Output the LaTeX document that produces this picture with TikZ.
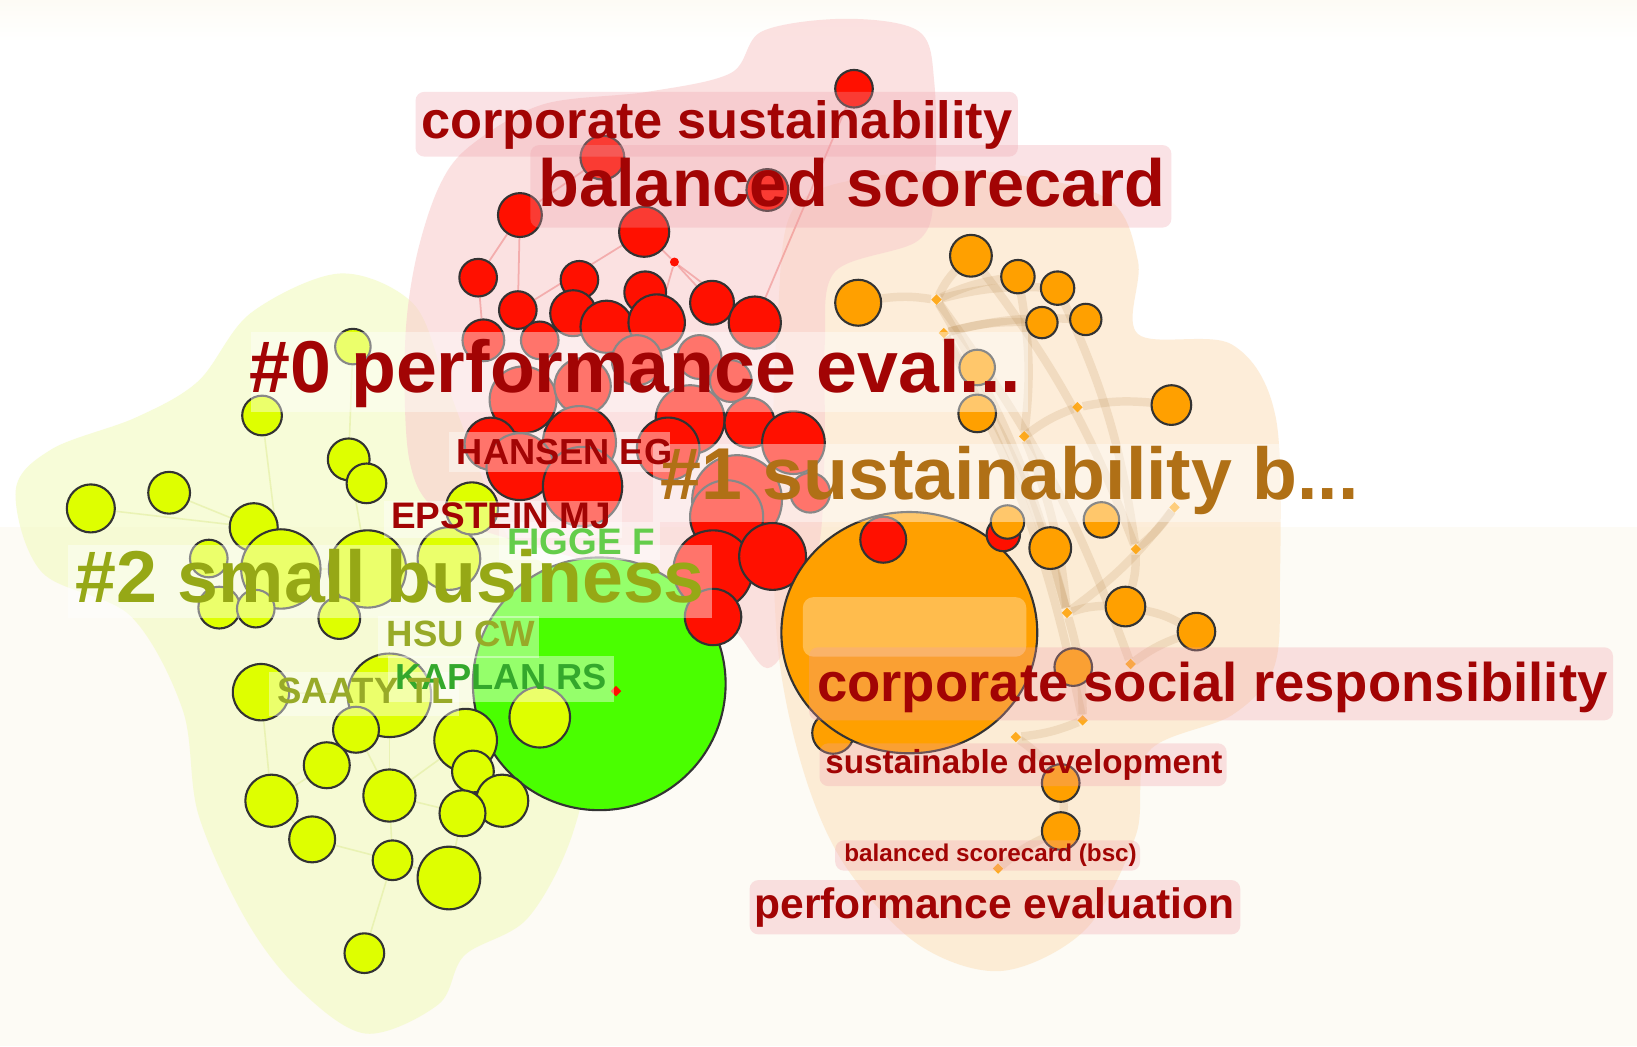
\documentclass[tikz,border=0pt]{standalone}
\usepackage{fontspec}
\setmainfont{Liberation Sans}
\usetikzlibrary{shapes.geometric}
\definecolor{kwred}{RGB}{162,4,4}
\definecolor{cbrown}{RGB}{176,112,22}
\definecolor{colive}{RGB}{150,168,22}
\definecolor{colive2}{RGB}{152,170,40}
\definecolor{ckap}{RGB}{52,168,44}
\definecolor{cfig}{RGB}{100,205,75}
\definecolor{rednode}{RGB}{255,16,0}
\definecolor{orgnode}{RGB}{255,160,0}
\definecolor{yelnode}{RGB}{222,255,0}
\definecolor{grnnode}{RGB}{74,255,0}
\definecolor{redhull}{RGB}{249,206,206}
\definecolor{orghull}{RGB}{252,226,192}
\definecolor{yelhull}{RGB}{242,250,190}
\definecolor{bgcream}{RGB}{253,251,245}
\definecolor{kwpink}{RGB}{240,160,170}
\definecolor{olinkc}{RGB}{170,115,45}
\definecolor{rlinkc}{RGB}{235,110,110}
\definecolor{ylinkc}{RGB}{215,230,130}
\pgfdeclarelayer{bgl}
\pgfdeclarelayer{hulls}
\pgfdeclarelayer{links}
\pgfsetlayers{bgl,hulls,links,main}
\tikzset{
  nd/.style={circle, draw=black!80, line width=0.6pt, inner sep=0pt, minimum size=#1*0.2088mm},
  rn/.style={nd=#1, fill=rednode},
  on/.style={nd=#1, fill=orgnode},
  yn/.style={nd=#1, fill=yelnode},
  dm/.style={diamond, fill=orgnode, fill opacity=.85, inner sep=0pt, minimum size=1.1mm},
  band/.style={fill=white, fill opacity=.42},
  kwbox/.style={fill=kwpink, fill opacity=.3, rounded corners=2.5pt},
  lab/.style={anchor=base west, inner sep=0pt, font=\bfseries\fontsize{#1}{#1}\selectfont},
  olink/.style={draw=olinkc, draw opacity=.14, line width=2.4pt},
  rlink/.style={draw=rlinkc, draw opacity=.45, line width=.5pt},
  ylink/.style={draw=ylinkc, draw opacity=.4, line width=.45pt},
}
\begin{document}
\begin{tikzpicture}[x=0.01044cm,y=-0.01044cm]
\useasboundingbox (0,0) rectangle (1568,1002);
% background
\begin{pgfonlayer}{bgl}
\fill[bgcream] (0,0) rectangle (1568,1002);
\fill[white] (0,40) rectangle (1568,505);
\shade[top color=bgcream, bottom color=white] (0,0) rectangle (1568,40);
\end{pgfonlayer}
% hulls
\begin{pgfonlayer}{hulls}
\fill[yelhull, fill opacity=.6] plot[smooth cycle, tension=.55] coordinates {
 (15,470) (50,430) (130,400) (190,365) (240,300) (325,262) (395,290) (425,360)
 (455,440) (490,520) (540,560) (565,700) (548,800) (505,880) (445,915) (420,962)
 (350,990) (285,946) (235,880) (190,780) (175,680) (125,590) (40,548)};
\fill[orghull, fill opacity=.6] plot[smooth cycle, tension=.55] coordinates {
 (745,300) (760,200) (830,170) (950,165) (1060,190) (1090,250) (1090,320)
 (1180,330) (1222,400) (1226,560) (1220,640) (1180,685) (1100,720) (1088,800)
 (1040,890) (960,930) (880,905) (810,830) (770,740) (745,620) (740,450)};
\fill[redhull, fill opacity=.6] plot[smooth cycle, tension=.55] coordinates {
 (392,440) (388,330) (398,250) (420,180) (450,140) (520,100) (620,88) (700,70)
 (730,30) (810,18) (880,30) (895,80) (895,180) (880,230) (800,260) (790,330)
 (790,420) (785,520) (762,600) (735,640) (700,600) (640,560) (500,520) (420,490)};
\end{pgfonlayer}
% green node
\node[circle, draw=black!80, line width=0.6pt, inner sep=0pt, fill=grnnode, minimum size=25.26mm] (g) at (574,655) {};
% yellow nodes
\foreach \nm/\xx/\yy/\rr in {
 y1/338/332/17, y2/251/398/19, y3/334/440/20, y4/351/463/19, y5/87/487/23,
 y6/162/472/20, y7/243/505/23, y8/200/535/18, y9/269/545/38, y10/352/545/37,
 y11/430/535/30, y12/210/582/20, y13/245/583/18, y14/325/592/20, y15/373/666/40,
 y16/250/663/27, y17/341/699/22, y18/446/709/30, y19/453/739/20, y20/313/733/22,
 y21/481/767/25, y22/443/779/22, y23/373/762/25, y24/260/767/25, y25/299/804/22,
 y26/376/824/19, y27/430/841/30, y28/349/913/19, y29/517/687/29, y30/452/487/25}
 \node[yn=\rr] (\nm) at (\xx,\yy) {};
% red nodes
\foreach \nm/\xx/\yy/\rr in {
 r1/818/85/18, r0/577/151/21, r0b/735/182/20, r2/498/206/21, r3/617/222/24,
 r4/458/266/18, r5/555/268/18, r6/618/280/20, r7/496/297/18, r8/549/300/22,
 r9/581/313/25, r10/629/309/27, r11/682/290/21, r12/723/309/25, r13/463/326/20,
 r14/517/326/18, r15/610/345/24, r16/670/342/21, r17/700/365/20, r18/501/383/32,
 r19/558/370/27, r20/661/402/33, r21/718/405/24, r22/760/424/30, r23/555/424/35,
 r24/640/430/30, r33/470/425/25, r25/498/447/32, r26/558/466/38, r27/706/479/43,
 r28/696/495/35, r29/776/472/19, r30/683/546/38, r31/740/533/32, r32/683/591/27}
 \node[rn=\rr] (\nm) at (\xx,\yy) {};
\node[circle, fill=rednode, inner sep=0pt, minimum size=0.9mm] (rd) at (646,251) {};
\node[diamond, fill=rednode, inner sep=0pt, minimum size=1.1mm] (rdm) at (590,662) {};
% orange nodes
\node[on=20] (o16) at (798,702) {};
\node[ellipse, draw=black!80, line width=0.6pt, inner sep=0pt, fill=orgnode, minimum width=25.58mm, minimum height=24.12mm] (ob) at (871,606) {};
\node[rn=22] (r35) at (846,517) {};
\node[rn=16] (r36) at (961,512) {};
\foreach \nm/\xx/\yy/\rr in {
 o1/930/245/20, o2/975/265/16, o3/1013/276/16, o4/998/309/15, o5/1040/306/15,
 o6/822/290/22, o7/936/352/17, o8/936/396/18, o9/1122/388/19, o10/965/500/16,
 o11/1055/498/17, o12/1006/525/20, o13/1078/581/19, o14/1146/605/18,
 o15/1028/639/18, o17/1016/750/18, o18/1016/796/18}
 \node[on=\rr] (\nm) at (\xx,\yy) {};
\foreach \nm/\xx/\yy in {d1/897/287, d2/904/319, d3/981/418, d4/1032/390,
 d5/1125/486, d6/1088/526, d7/1022/587, d8/1083/636, d9/1037/690,
 d10/973/706, d11/956/832}
 \node[dm] (\nm) at (\xx,\yy) {};
% links
\begin{pgfonlayer}{links}
\foreach \a/\b in {d1/o1, d1/o2, d1/o3, d2/o4, d2/o5, d1/d7, d2/d7, o1/d6,
 o3/d6, d4/o9, d3/d4, d5/d6, d5/d7, d7/o13, o13/o14, d8/o14, d7/d9, d9/d10,
 o17/o18, d10/o17, d11/o18, d3/d7, o6/d1, o2/d3, d6/o13, d2/d9, d1/d8}
 \draw[olink] (\a) to[bend left=8] (\b);
\foreach \a/\b in {r2/r4, r3/r7, r3/rd, rd/r10, rd/r11, rd/r12, r1/r12, r4/r13, r2/r7, r0/r2}
 \draw[rlink] (\a) -- (\b);
\foreach \a/\b in {y15/y17, y15/y20, y15/y23, y17/y20, y17/y23, y23/y22, y23/y26,
 y20/y24, y24/y25, y25/y26, y26/y27, y22/y27, y18/y23, y16/y15, y9/y10, y10/y14,
 y3/y10, y2/y9, y6/y7, y5/y7, y1/y3, y16/y24, y28/y26}
 \draw[ylink] (\a) -- (\b);
\end{pgfonlayer}
% translucent label bands
\fill[band] (240,318) rectangle (985,395);
\fill[band] (430,414) rectangle (642,452);
\fill[band] (625,425) rectangle (1305,500);
\fill[band] (368,480) rectangle (596,515);
\fill[band] (478,500) rectangle (632,536);
\fill[band] (65,522) rectangle (682,592);
\fill[band] (362,590) rectangle (516,630);
\fill[band] (372,628) rectangle (588,672);
\fill[band] (258,644) rectangle (440,686);
\fill[white, fill opacity=.3, rounded corners=3pt] (769,572) rectangle (983,629);
% keyword boxes
\fill[kwbox] (398,88) rectangle (975,150);
\fill[kwbox] (508,139) rectangle (1122,218);
\fill[kwbox] (775,620) rectangle (1545,690);
\fill[kwbox] (785,712) rectangle (1175,753);
\fill[kwbox] (800,805) rectangle (1092,834);
\fill[kwbox] (718,843) rectangle (1188,895);
% labels
\node[lab=14.9pt, text=kwred] (k1) at (403,133) {corporate sustainability};
\node[lab=19pt, text=kwred] (k2) at (515,198) {balanced scorecard};
\node[lab=20.9pt, text=kwred] (c0) at (238,376) {\#0 performance eval...};
\node[lab=10.3pt, text=kwred] (a1) at (437,445) {HANSEN EG};
\node[lab=20.9pt, text=cbrown] (c1) at (632,478) {\#1 sustainability b...};
\node[lab=10.5pt, text=kwred] (a2) at (374,506) {EPSTEIN MJ};
\node[lab=10.5pt, text=cfig] (a3) at (485,531) {FIGGE F};
\node[lab=20.9pt, text=colive] (c2) at (72,577) {\#2 small business};
\node[lab=10.4pt, text=colive2] (a4) at (370,619) {HSU CW};
\node[lab=10.3pt, text=ckap] (a5) at (378,660) {KAPLAN RS};
\node[lab=10.4pt, text=colive2] (a6) at (265,674) {SAATY TL};
\node[lab=15.5pt, text=kwred] (k3) at (782,672) {corporate social responsibility};
\node[lab=9.45pt, text=kwred] (k4) at (790,741) {sustainable development};
\node[lab=6.9pt, text=kwred] (k5) at (808,825) {balanced scorecard (bsc)};
\node[lab=12.1pt, text=kwred] (k6) at (722,880) {performance evaluation};
\end{tikzpicture}
\end{document}
